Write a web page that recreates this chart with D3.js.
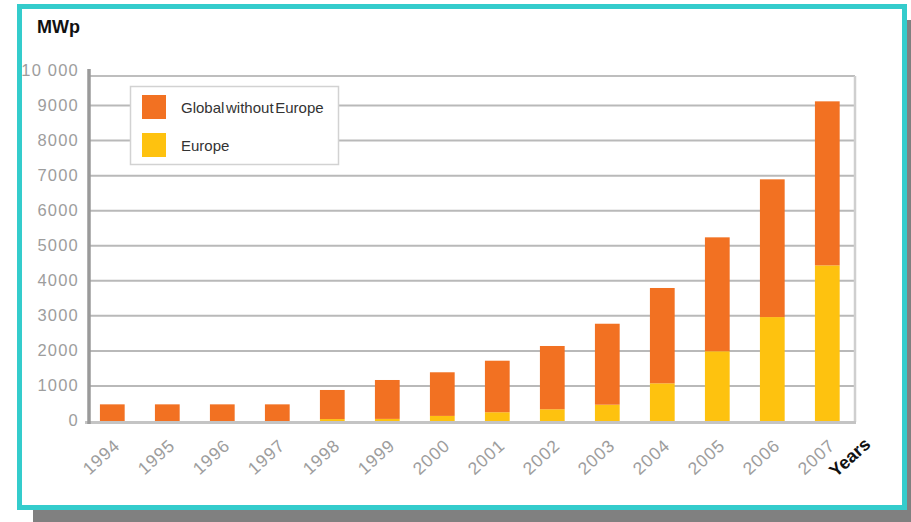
<!DOCTYPE html>
<html>
<head>
<meta charset="utf-8">
<script src="https://cdn.jsdelivr.net/npm/d3@7/dist/d3.min.js"></script>
<style>
  html, body { margin: 0; padding: 0; background: #ffffff; }
  svg { display: block; font-family: "Liberation Sans", Arial, Helvetica, sans-serif; }
</style>
</head>
<body>
<svg id="chart" width="911" height="522"></svg>
<script>
// Cumulative installed photovoltaic power (MWp), 1994–2007
const years = ["1994","1995","1996","1997","1998","1999","2000","2001","2002","2003","2004","2005","2006","2007"];
const europe = [0, 0, 0, 0, 55, 60, 145, 250, 335, 465, 1075, 1990, 2965, 4440];
const globalWithoutEurope = [475, 475, 475, 475, 830, 1110, 1245, 1470, 1805, 2310, 2720, 3250, 3930, 4680];
const yTicks = [0, 1000, 2000, 3000, 4000, 5000, 6000, 7000, 8000, 9000, 10000];
const seriesNames = ["Global without Europe", "Europe"];

const colors = { europe: "#fec20f", global: "#f27122" };

const rows = years.map((y, i) => ({ year: y, europe: europe[i], global: globalWithoutEurope[i] }));
const stacked = d3.stack().keys(["europe", "global"])(rows);

const svg = d3.select("#chart");

// drop shadow and teal frame
svg.append("rect").attr("x", 33).attr("y", 20).attr("width", 900).attr("height", 520).attr("fill", "#808080");
svg.append("rect").attr("x", 19.5).attr("y", 6.5).attr("width", 885).attr("height", 501)
  .attr("fill", "#ffffff").attr("stroke", "#34cccc").attr("stroke-width", 5);

const x = d3.scaleBand().domain(years).range([84.8, 854.8]).paddingInner(0.55).paddingOuter(0.275);
const y = d3.scaleLinear().domain([0, 10000]).range([421, 70.5]);

const plotLeft = 89, plotRight = 855, plotTop = 76;

// horizontal gridlines
svg.append("g").selectAll("line").data(yTicks.filter(t => t > 0 && t < 10000)).join("line")
  .attr("x1", plotLeft).attr("x2", plotRight)
  .attr("y1", d => y(d)).attr("y2", d => y(d))
  .attr("stroke", "#b9b9b9").attr("stroke-width", 2);

// plot frame: top and right edges
svg.append("line").attr("x1", plotLeft).attr("x2", plotRight).attr("y1", plotTop).attr("y2", plotTop)
  .attr("stroke", "#a9a9a9").attr("stroke-width", 1.5);
svg.append("line").attr("x1", plotRight).attr("x2", plotRight).attr("y1", plotTop).attr("y2", y(0) + 1)
  .attr("stroke", "#cfcfcf").attr("stroke-width", 2.5);

// y tick labels
const yAxis = d3.axisLeft(y).tickValues(yTicks).tickSize(0).tickPadding(0)
  .tickFormat(d => d === 10000 ? "10 000" : String(d));
const yg = svg.append("g").attr("transform", `translate(79,0)`).call(yAxis);
yg.select(".domain").remove();
yg.selectAll("text")
  .attr("fill", "#9d9d9d").attr("font-size", 16.5).attr("letter-spacing", "1.2px")
  .attr("font-family", "\"Liberation Sans\", Arial, sans-serif")
  .attr("dy", "0.3em");

// stacked bars
svg.append("g").selectAll("g").data(stacked).join("g")
  .attr("fill", d => colors[d.key])
  .selectAll("rect").data(d => d).join("rect")
  .attr("x", d => x(d.data.year))
  .attr("width", x.bandwidth())
  .attr("y", d => y(d[1]))
  .attr("height", d => Math.max(0, y(d[0]) - y(d[1])));

// axis lines
svg.append("line").attr("x1", plotLeft - 4).attr("x2", plotRight + 1).attr("y1", 422.5).attr("y2", 422.5)
  .attr("stroke", "#c4c4c4").attr("stroke-width", 3);
svg.append("line").attr("x1", plotLeft).attr("x2", plotLeft).attr("y1", 69).attr("y2", 424)
  .attr("stroke", "#9a9a9a").attr("stroke-width", 3.5);

// x tick labels, slanted
const xAxis = d3.axisBottom(x).tickSize(0).tickPadding(0);
const xg = svg.append("g").call(xAxis);
xg.select(".domain").remove();
xg.selectAll(".tick").attr("transform", d => `translate(${x(d) + x.bandwidth() / 2 + 9},447)`);
xg.selectAll("text")
  .attr("y", 0).attr("dy", 0)
  .attr("fill", "#9d9d9d").attr("font-size", 17.5).attr("letter-spacing", "1px")
  .attr("font-family", "\"Liberation Sans\", Arial, sans-serif")
  .attr("text-anchor", "end")
  .attr("transform", "rotate(-42)");

// axis titles
svg.append("text").attr("x", 37).attr("y", 33)
  .attr("font-size", 18).attr("font-weight", "bold").attr("fill", "#111").text("MWp");
svg.append("text").attr("transform", "translate(836,478) rotate(-42)")
  .attr("font-size", 18).attr("font-weight", "bold").attr("fill", "#111").text("Years");

// legend
const legend = svg.append("g");
legend.append("rect").attr("x", 130.5).attr("y", 86.5).attr("width", 208).attr("height", 78)
  .attr("fill", "#ffffff").attr("stroke", "#d2d2d2").attr("stroke-width", 1.5);
const legendColors = [colors.global, colors.europe];
seriesNames.forEach((name, i) => {
  legend.append("rect").attr("x", 142).attr("y", 95 + i * 38).attr("width", 24).attr("height", 24)
    .attr("fill", legendColors[i]);
  legend.append("text").attr("x", 181).attr("y", 113 + i * 38)
    .attr("font-size", 15).attr("word-spacing", "-2.5px").attr("fill", "#333").text(name);
});
</script>
</body>
</html>
